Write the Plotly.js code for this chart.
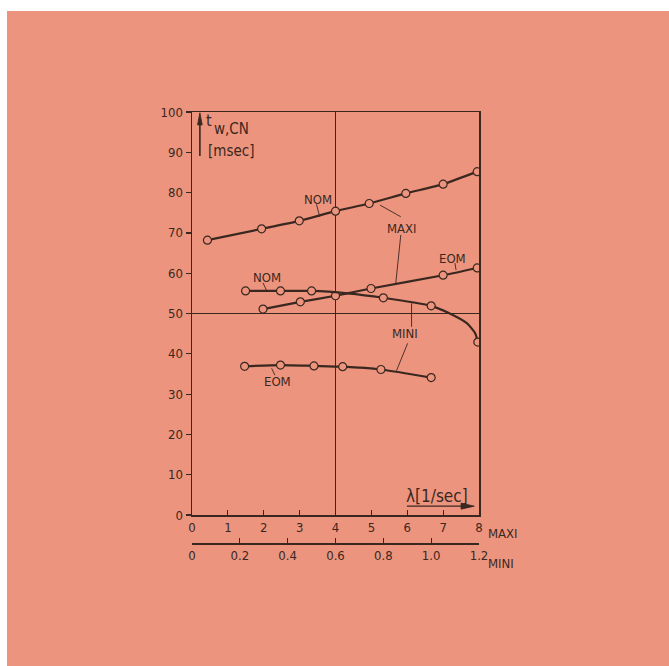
<!DOCTYPE html>
<html>
<head>
<meta charset="utf-8">
<script src="https://cdn.plot.ly/plotly-3.0.1.min.js"></script>
<style>
  html, body { margin: 0; padding: 0; background: #ffffff; width: 669px; height: 666px; overflow: hidden; }
  #bg { position: absolute; left: 7px; top: 11px; right: 0; bottom: 0; background: #ed947e; }
  #chart { position: absolute; left: 0; top: 0; width: 669px; height: 666px; }
</style>
</head>
<body>
<div id="bg"></div>
<div id="chart"></div>
<script>
// ---- Data ----
// λ for MAXI in 1/sec (lower-axis "MAXI"), λ for MINI in 1/sec (axis "MINI")
const nomMaxiX = [0.43, 1.94, 2.99, 4.0, 4.94, 5.96, 7.0, 7.95];
const nomMaxiY = [68.2, 71.0, 73.0, 75.4, 77.3, 79.8, 82.1, 85.2];

const eomMaxiX = [1.98, 3.02, 4.0, 4.99, 7.0, 7.95];
const eomMaxiY = [51.1, 52.9, 54.4, 56.2, 59.5, 61.3];

const nomMiniX = [0.224, 0.37, 0.50, 0.80, 1.0, 1.195];
const nomMiniY = [55.6, 55.6, 55.6, 53.9, 51.9, 42.9];
// additional points (steep end)
const nomMiniCurveX = [0.224, 0.37, 0.50, 0.65, 0.80, 1.0, 1.078, 1.149, 1.184, 1.195];
const nomMiniCurveY = [55.6, 55.6, 55.6, 55.0, 53.9, 51.9, 50.0, 47.6, 45.1, 42.9];

const eomMiniX = [0.22, 0.37, 0.51, 0.63, 0.79, 1.0];
const eomMiniY = [36.9, 37.2, 37.0, 36.8, 36.1, 34.1];

const maxiTicks = [0, 1, 2, 3, 4, 5, 6, 7, 8];
const miniTicks = [0, 0.2, 0.4, 0.6, 0.8, 1.0, 1.2];
const miniTickText = ["0", "0.2", "0.4", "0.6", "0.8", "1.0", "1.2"];
const yTicks = [0, 10, 20, 30, 40, 50, 60, 70, 80, 90, 100];

// ---- Styling ----
const ink = '#3a2820';
const bg = '#ed947e';
const fam = 'DejaVu Sans Condensed, Liberation Sans Narrow, DejaVu Sans, sans-serif';
const font = {family: fam, size: 13, color: ink};

const lineStyle = {color: ink, width: 2.2, shape: 'spline', smoothing: 0.6};
const markerStyle = {symbol: 'circle', size: 8, color: bg, line: {color: ink, width: 1.2}};

const traces = [
  {x: nomMaxiX, y: nomMaxiY, xaxis: 'x', yaxis: 'y', mode: 'lines+markers', line: lineStyle, marker: markerStyle, name: 'NOM MAXI'},
  {x: eomMaxiX, y: eomMaxiY, xaxis: 'x', yaxis: 'y', mode: 'lines+markers', line: lineStyle, marker: markerStyle, name: 'EOM MAXI'},
  {x: nomMiniCurveX, y: nomMiniCurveY, xaxis: 'x2', yaxis: 'y', mode: 'lines', line: lineStyle, name: 'NOM MINI curve', hoverinfo: 'skip'},
  {x: nomMiniX, y: nomMiniY, xaxis: 'x2', yaxis: 'y', mode: 'markers', marker: markerStyle, name: 'NOM MINI'},
  {x: eomMiniX, y: eomMiniY, xaxis: 'x2', yaxis: 'y', mode: 'lines+markers', line: lineStyle, marker: markerStyle, name: 'EOM MINI'}
];

// plot area geometry
const H = 666, W = 669;
const mT = 112, mB = 66, mL = 192.3, mR = 190;
const paperH = H - mT - mB;
const yDomLow = (H - mB - 515) / paperH;
const x2Pos = (H - mB - 543.3) / paperH;

function leader(x0, y0, x1, y1) {
  return {type: 'line', xref: 'x', yref: 'y', x0: x0, y0: y0, x1: x1, y1: y1, line: {color: ink, width: 0.9}, layer: 'above'};
}
function label(text, x, y) {
  return {text: text, x: x, y: y, xref: 'x', yref: 'y', showarrow: false, font: font, xanchor: 'center', yanchor: 'middle'};
}

const layout = {
  width: W, height: H,
  margin: {l: mL, r: mR, t: mT, b: mB},
  paper_bgcolor: 'rgba(0,0,0,0)',
  plot_bgcolor: 'rgba(0,0,0,0)',
  showlegend: false,
  font: font,
  xaxis: {
    range: [0, 8], tickvals: maxiTicks, ticks: 'inside', ticklen: 5, tickwidth: 1.2, tickcolor: ink,
    showline: true, linecolor: ink, linewidth: 1.5, mirror: true, showgrid: false, zeroline: false,
    layer: 'below traces', anchor: 'y', tickfont: font
  },
  xaxis2: {
    range: [0, 1.2], tickvals: miniTicks, ticktext: miniTickText, ticks: 'inside', ticklen: 5, tickwidth: 1.2, tickcolor: ink,
    showline: true, linecolor: ink, linewidth: 1.5, showgrid: false, zeroline: false,
    overlaying: 'x', anchor: 'free', position: x2Pos, side: 'bottom', tickfont: font
  },
  yaxis: {
    range: [0, 100], domain: [yDomLow, 1], tickvals: yTicks, ticks: 'outside', ticklen: 5, tickwidth: 1.2, tickcolor: ink,
    showline: true, linecolor: ink, linewidth: 1.5, mirror: true, showgrid: false, zeroline: false,
    layer: 'below traces', tickfont: font
  },
  shapes: [
    {type: 'line', xref: 'x', yref: 'y', x0: 4, x1: 4, y0: 0, y1: 100, line: {color: ink, width: 1}, layer: 'below'},
    {type: 'line', xref: 'x', yref: 'y', x0: 0, x1: 8, y0: 50, y1: 50, line: {color: ink, width: 1}, layer: 'below'},
    leader(3.47, 77.1, 3.56, 74.0),
    leader(5.24, 76.9, 5.82, 74.0),
    leader(5.82, 69.5, 5.68, 57.5),
    leader(7.33, 62.5, 7.36, 60.8),
    leader(1.98, 57.6, 2.08, 55.7),
    leader(6.12, 52.5, 6.12, 46.7),
    leader(6.01, 42.6, 5.70, 35.8),
    leader(2.22, 36.4, 2.31, 34.7),
    // y-axis title arrow
    {type: 'line', xref: 'x', yref: 'y', x0: 0.22, y0: 89.1, x1: 0.22, y1: 97.5, line: {color: ink, width: 1.6}},
    {type: 'path', xref: 'x', yref: 'y', path: 'M 0.155 96.8 L 0.285 96.8 L 0.22 99.8 Z', fillcolor: ink, line: {color: ink, width: 0.8}},
    // λ arrow
    {type: 'line', xref: 'x', yref: 'y', x0: 5.99, y0: 2.2, x1: 7.6, y1: 2.2, line: {color: ink, width: 1.4}},
    {type: 'path', xref: 'x', yref: 'y', path: 'M 7.5 1.45 L 7.5 2.95 L 7.87 2.2 Z', fillcolor: ink, line: {color: ink, width: 0.8}}
  ],
  annotations: [
    label('NOM', 3.51, 78.2),
    label('MAXI', 5.84, 71.0),
    label('EOM', 7.27, 63.7),
    label('NOM', 2.08, 59.0),
    label('MINI', 5.95, 45.1),
    label('EOM', 2.37, 33.1),
    // y-axis title
    {text: 't', x: 0.33, y: 98.0, xref: 'x', yref: 'y', showarrow: false, xanchor: 'left', yanchor: 'middle',
     font: {family: fam, size: 16, color: ink}},
    {text: 'w,CN', x: 0.55, y: 95.9, xref: 'x', yref: 'y', showarrow: false, xanchor: 'left', yanchor: 'middle',
     font: {family: fam, size: 15, color: ink}},
    {text: '[msec]', x: 0.38, y: 90.3, xref: 'x', yref: 'y', showarrow: false, xanchor: 'left', yanchor: 'middle',
     font: {family: fam, size: 15, color: ink}},
    // x label
    {text: 'λ[1/sec]', x: 6.83, y: 4.6, xref: 'x', yref: 'y', showarrow: false, xanchor: 'center', yanchor: 'middle',
     font: {family: fam, size: 17, color: ink}},
    // axis names
    {text: 'MAXI', x: 8, y: 0, xref: 'x', yref: 'y', showarrow: false, xanchor: 'left', yanchor: 'middle', xshift: 7, yshift: -18, font: font},
    {text: 'MINI', x: 1.2, y: 0, xref: 'x2', yref: 'paper', showarrow: false, xanchor: 'left', yanchor: 'middle', xshift: 7,
     yshift: 0, font: font}
  ]
};
// position of "MINI" label in paper coordinates (below the second axis labels)
layout.annotations[layout.annotations.length - 1].y = (H - mB - 563) / paperH;

Plotly.newPlot('chart', traces, layout, {staticPlot: true, displayModeBar: false});
</script>
</body>
</html>
